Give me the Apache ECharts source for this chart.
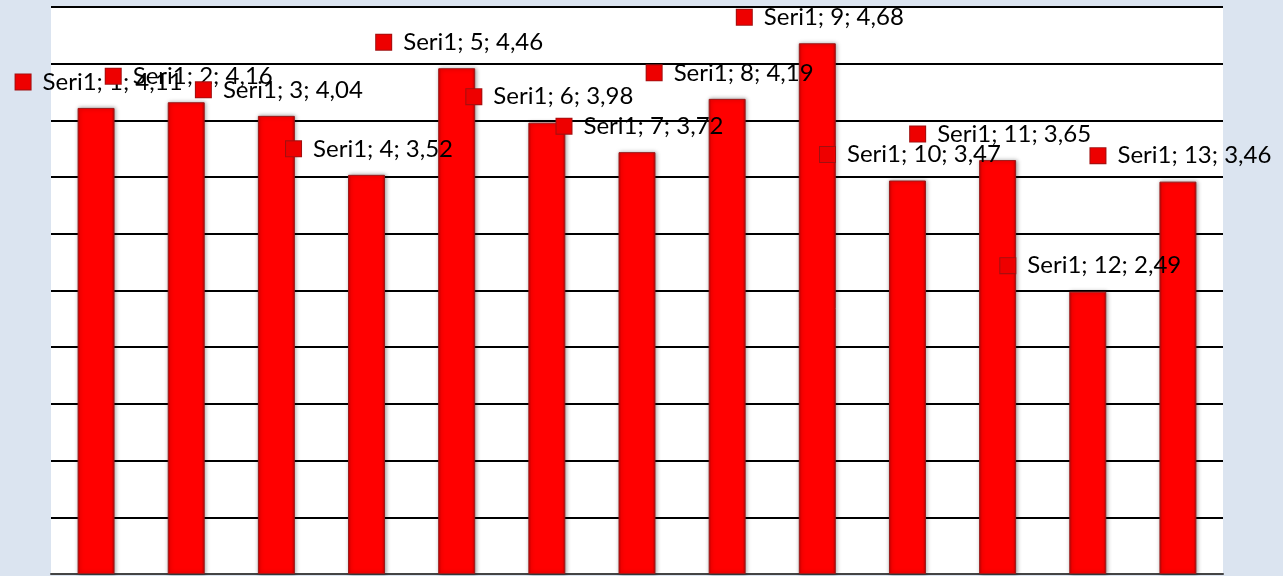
<!DOCTYPE html>
<html>
<head>
<meta charset="utf-8">
<script src="https://cdn.jsdelivr.net/npm/echarts@6/dist/echarts.min.js"></script>
<style>
html,body{margin:0;padding:0;background:#dbe4f0;}
#c{width:1283px;height:576px;}
</style>
</head>
<body>
<div id="c"></div>
<script>
const seriesName = 'Seri1';
const categories = ['1','2','3','4','5','6','7','8','9','10','11','12','13'];
const values = [4.11, 4.16, 4.04, 3.52, 4.46, 3.98, 3.72, 4.19, 4.68, 3.47, 3.65, 2.49, 3.46];
const yMin = 0, yMax = 5, yStep = 0.5;

const chart = echarts.init(document.getElementById('c'), null, {renderer: 'canvas'});
const fmtNum = v => v.toFixed(2).replace('.', ',');
chart.setOption({
  backgroundColor: '#dbe4f0',
  animation: false,
  grid: {left: 51, right: 60, top: 7, bottom: 2, show: true, backgroundColor: '#ffffff', borderWidth: 0},
  xAxis: {
    type: 'category', data: categories,
    axisLine: {show: true, lineStyle: {color: '#444', width: 2}},
    axisTick: {show: false}, axisLabel: {show: false}, splitLine: {show: false}
  },
  yAxis: {
    type: 'value', min: yMin, max: yMax, interval: yStep,
    axisLine: {show: false}, axisTick: {show: false}, axisLabel: {show: false},
    splitLine: {show: true, lineStyle: {color: '#000', width: 2}}
  },
  series: [{
    type: 'bar', name: seriesName, data: values, barWidth: '41%',
    itemStyle: {
      color: new echarts.graphic.LinearGradient(0, 0, 1, 0, [
        {offset: 0, color: '#c80000'},
        {offset: 0.08, color: '#ff0000'},
        {offset: 0.92, color: '#ff0000'},
        {offset: 1, color: '#c00000'}
      ]),
      borderColor: '#9a1a1a', borderWidth: 1,
      shadowColor: 'rgba(0,0,0,0.35)', shadowBlur: 4, shadowOffsetX: 1
    },
    label: {
      show: true, position: 'top', distance: 11, offset: [3, 0],
      formatter: p => '{m|}{t|' + seriesName + '; ' + categories[p.dataIndex] + '; ' + fmtNum(p.value) + '}',
      rich: {
        m: {width: 15, height: 15, backgroundColor: '#ee0000', borderColor: '#a01010', borderWidth: 1},
        t: {fontFamily: 'Lato', fontSize: 24, color: '#000', padding: [0, 0, 0, 12], lineHeight: 30}
      }
    }
  }]
});
</script>
</body>
</html>
